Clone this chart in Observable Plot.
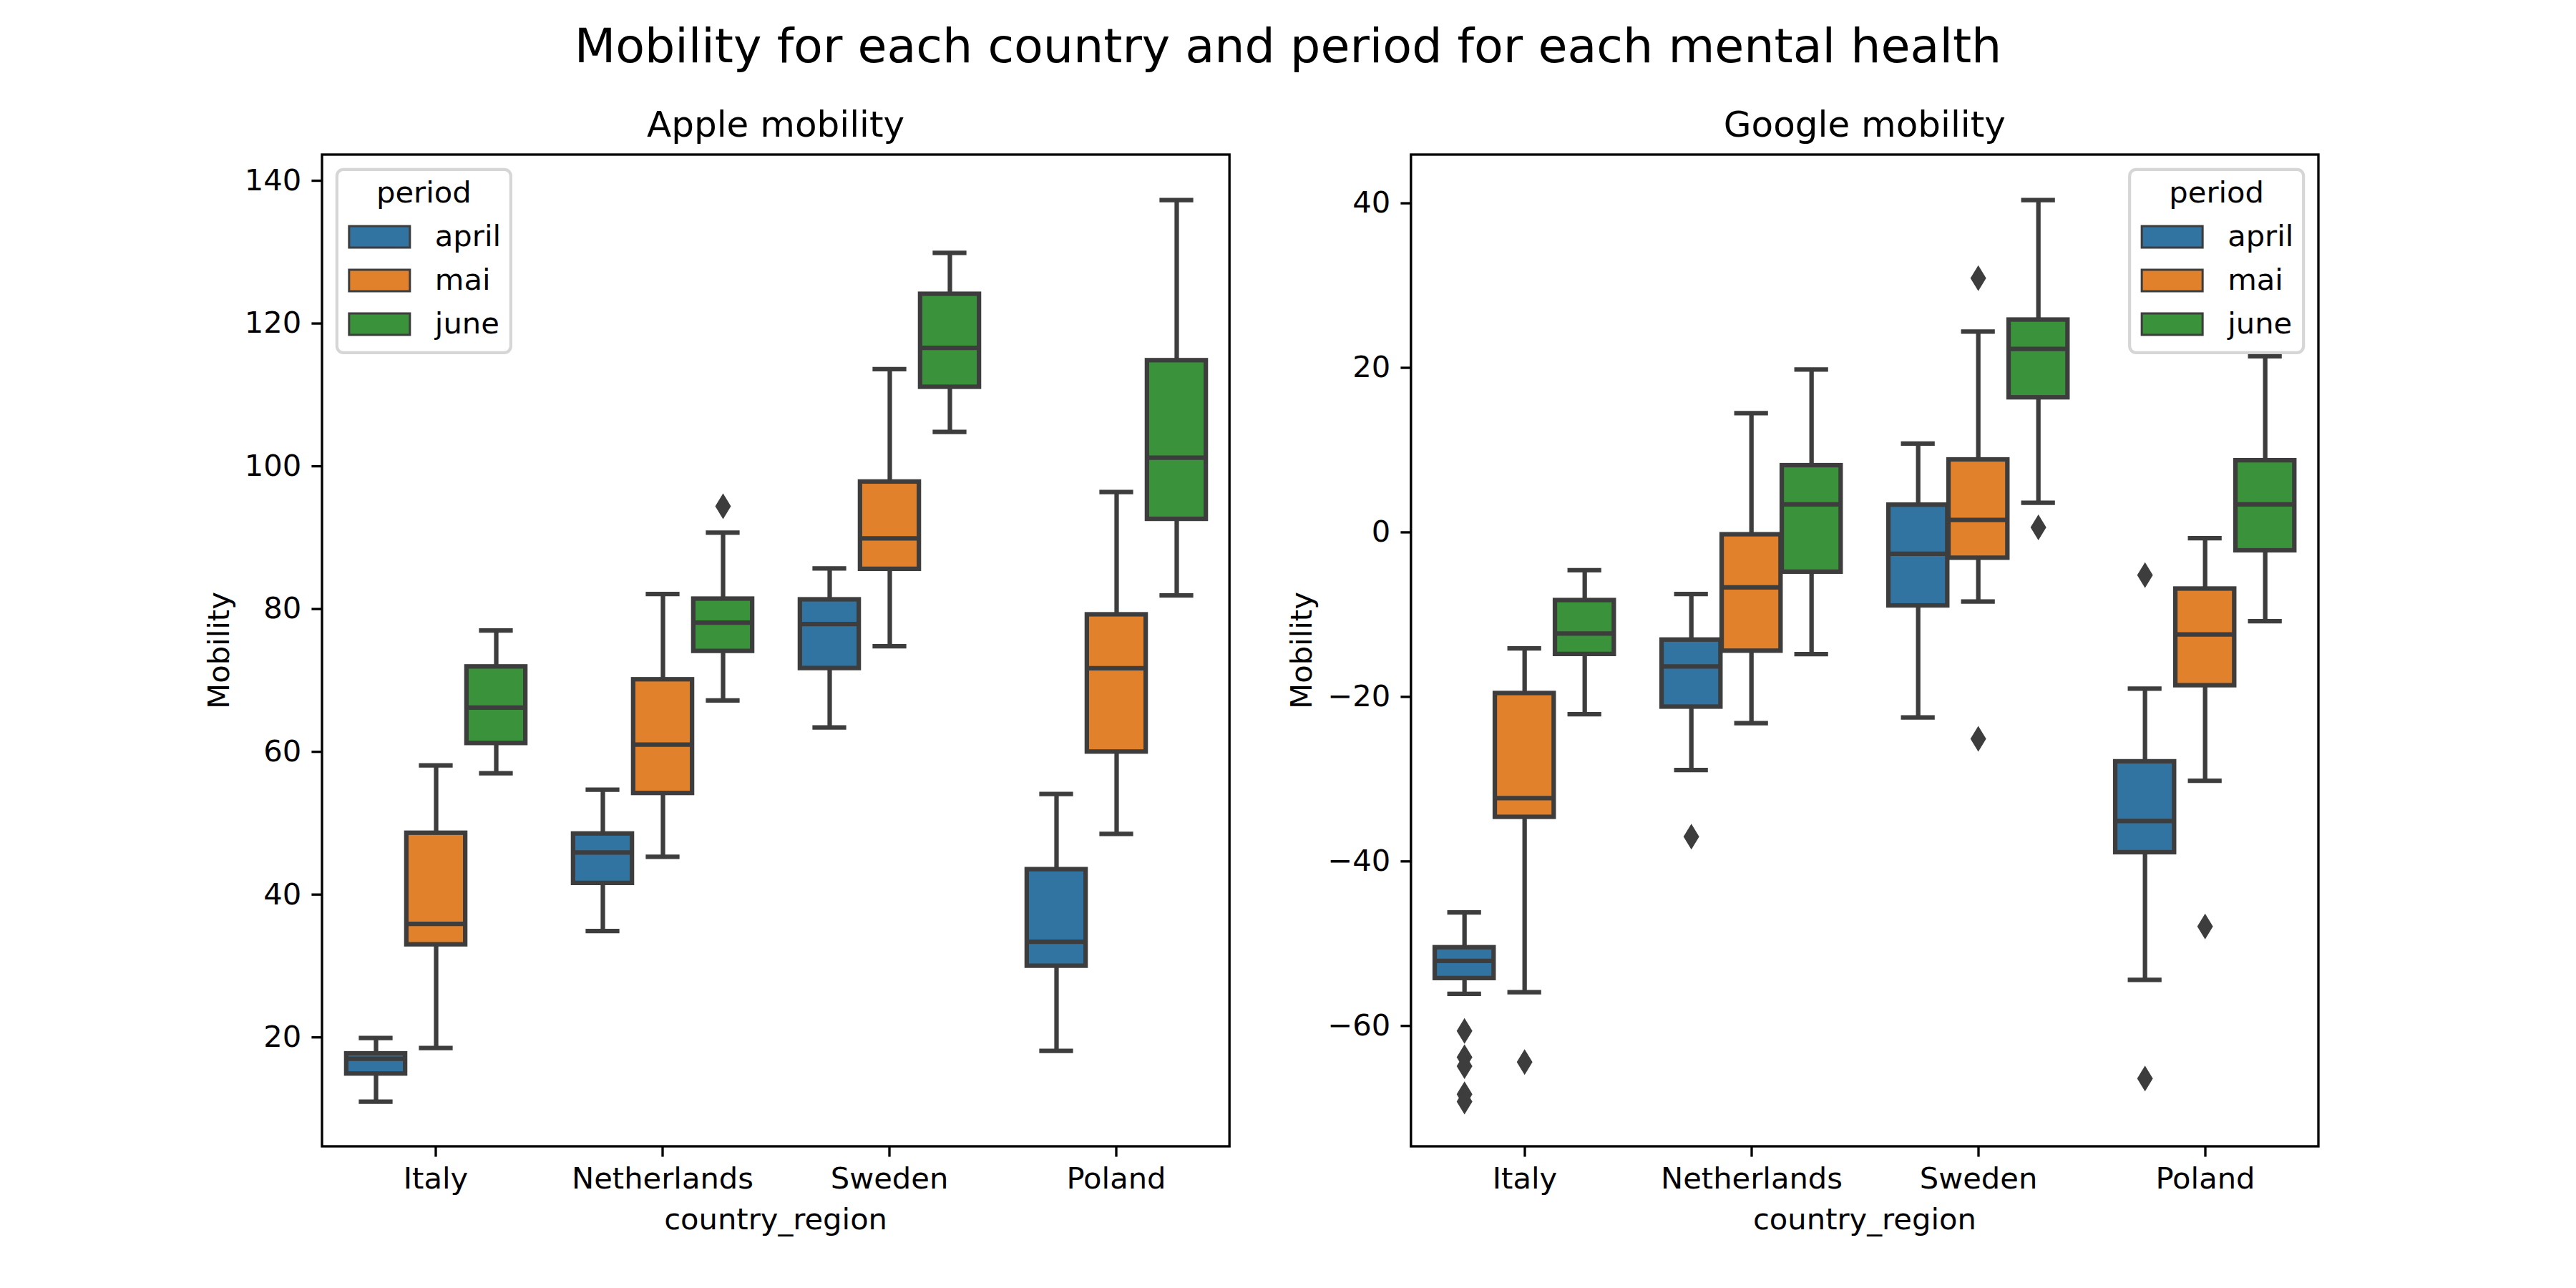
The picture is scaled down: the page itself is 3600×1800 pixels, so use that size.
<!DOCTYPE html>
<html>
<head>
<meta charset="utf-8">
<script src="https://cdn.jsdelivr.net/npm/d3@7"></script>
<script src="https://cdn.jsdelivr.net/npm/@observablehq/plot@0.6"></script>
<style>
  html, body { margin: 0; padding: 0; background: white; }
  #fig { position: relative; width: 3600px; height: 1800px; background: white; overflow: hidden; }
</style>
</head>
<body>
<div id="fig"></div>
<script>
// ---------------- data ----------------
const countries = ["Italy", "Netherlands", "Sweden", "Poland"];
const periods = ["april", "mai", "june"];
const periodColors = ["#3274a1", "#e1812c", "#3a923a"];

const appleTicks = [20, 40, 60, 80, 100, 120, 140];
const googleTicks = [-60, -40, -20, 0, 20, 40];

// order: Italy(april,mai,june), Netherlands(...), Sweden(...), Poland(...)
const appleLo  = [11.0, 18.5, 57.0, 34.9, 45.3, 67.2, 63.4, 74.8, 104.8, 18.1, 48.5, 81.9];
const appleQ1  = [14.8, 32.9, 61.1, 41.5, 54.1, 74.0, 71.6, 85.5, 111.0, 29.9, 59.9, 92.5];
const appleMed = [17.0, 35.9, 66.2, 45.9, 61.0, 78.1, 77.9, 89.9, 116.6, 33.4, 71.7, 101.2];
const appleQ3  = [17.8, 48.7, 72.0, 48.6, 70.2, 81.5, 81.4, 97.9, 124.2, 43.6, 79.3, 114.9];
const appleHi  = [19.9, 58.1, 77.0, 54.7, 82.1, 90.7, 85.7, 113.6, 129.9, 54.1, 96.4, 137.3];
const appleOutliers = [["Netherlands", "june", 94.4]];

const googleLo  = [-56.1, -55.9, -22.1, -28.9, -23.2, -14.8, -22.5, -8.4, 3.6, -54.4, -30.2, -10.8];
const googleQ1  = [-54.3, -34.7, -14.9, -21.3, -14.5, -4.9, -9.0, -3.2, 16.3, -39.0, -18.7, -2.3];
const googleMed = [-52.1, -32.3, -12.3, -16.3, -6.7, 3.4, -2.6, 1.5, 22.3, -35.1, -12.4, 3.4];
const googleQ3  = [-50.4, -19.5, -8.2, -13.0, -0.2, 8.2, 3.4, 8.9, 25.9, -27.8, -6.8, 8.8];
const googleHi  = [-46.2, -14.1, -4.6, -7.5, 14.5, 19.8, 10.8, 24.4, 40.4, -19.0, -0.7, 21.4];
const googleOutliers = [
  ["Italy", "april", -60.6], ["Italy", "april", -63.8], ["Italy", "april", -64.9],
  ["Italy", "april", -68.3], ["Italy", "april", -69.2], ["Italy", "mai", -64.4],
  ["Netherlands", "april", -37.0], ["Sweden", "mai", 30.9], ["Sweden", "mai", -25.1],
  ["Sweden", "june", 0.6], ["Poland", "april", -5.2], ["Poland", "april", -66.4],
  ["Poland", "mai", -47.9]
];

const suptitle = "Mobility for each country and period for each mental health";
const panelTitles = ["Apple mobility", "Google mobility"];
const xLabel = "country_region";
const yLabel = "Mobility";
const legendTitle = "period";

// ---------------- helpers ----------------
const GRAY = "#3d3d3d";
const FONT = "DejaVu Sans";
const PT = 300 / 72;            // px per point at 300 dpi
const FS = 10 * PT;             // 10pt
const LW = 1.5 * PT;            // box line width
const SPINE = 0.8 * PT;
const TICK = 3.5 * PT;

function rows(lo, q1, med, q3, hi) {
  return lo.map((_, i) => ({
    country: countries[Math.floor(i / 3)], period: periods[i % 3],
    lo: lo[i], q1: q1[i], med: med[i], q3: q3[i], hi: hi[i]
  }));
}
function outRows(list) { return list.map(([country, period, value]) => ({country, period, value})); }

function paddedDomain(data, outs) {
  const vals = data.flatMap(d => [d.lo, d.hi]).concat(outs.map(d => d.value));
  const [a, b] = d3.extent(vals);
  const m = (b - a) * 0.05;
  return [a - m, b + m];
}

const thinDiamond = {
  draw(ctx, size) {
    const s = Math.sqrt(size / Math.PI);
    ctx.moveTo(0, -s); ctx.lineTo(0.61 * s, 0); ctx.lineTo(0, s); ctx.lineTo(-0.61 * s, 0); ctx.closePath();
  }
};

const minusFmt = d => d < 0 ? "\u2212" + Math.abs(d) : String(d);

// layout (matplotlib default subplot params, 12x6in @300dpi)
const W = 3600, H = 1800;
const axLeft = 0.125 * W, axRight = 0.9 * W;
const axW = (axRight - axLeft) / 2.2;
const axTop = H * (1 - 0.88), axBottom = H * (1 - 0.11);
const frames = [axLeft, axLeft + 1.2 * axW];

function panel(data, outs, ticks, svgLeft, frameLeft) {
  const svgW = 1800;
  const ml = frameLeft - svgLeft;
  const mr = svgW - ml - axW;
  const chart = Plot.plot({
    width: svgW, height: H,
    marginLeft: ml, marginRight: mr, marginTop: axTop, marginBottom: H - axBottom,
    style: {fontFamily: FONT, fontSize: FS + "px", color: "black", background: "transparent",
            position: "absolute", left: svgLeft + "px", top: "0px", maxWidth: "none", overflow: "visible"},
    fx: {domain: countries, padding: 0},
    x: {domain: periods, paddingInner: 0, paddingOuter: 0.375, axis: null},
    y: {domain: paddedDomain(data, outs)},
    color: {domain: periods, range: periodColors},
    marks: [
      Plot.ruleX(data, {fx: "country", x: "period", y1: "lo", y2: "q1", stroke: GRAY, strokeWidth: LW}),
      Plot.ruleX(data, {fx: "country", x: "period", y1: "q3", y2: "hi", stroke: GRAY, strokeWidth: LW}),
      Plot.tickY(data, {fx: "country", x: "period", y: "lo", stroke: GRAY, strokeWidth: LW, insetLeft: 21.5, insetRight: 21.5, strokeLinecap: "square"}),
      Plot.tickY(data, {fx: "country", x: "period", y: "hi", stroke: GRAY, strokeWidth: LW, insetLeft: 21.5, insetRight: 21.5, strokeLinecap: "square"}),
      Plot.barY(data, {fx: "country", x: "period", y1: "q1", y2: "q3", fill: "period", stroke: GRAY, strokeWidth: LW, inset: 0.85}),
      Plot.tickY(data, {fx: "country", x: "period", y: "med", stroke: GRAY, strokeWidth: LW, insetLeft: 0.85, insetRight: 0.85}),
      Plot.dot(outs, {fx: "country", x: "period", y: "value", symbol: thinDiamond, r: 18, fill: GRAY, stroke: "none"}),
      Plot.axisY({ticks: ticks, tickSize: TICK, tickPadding: TICK, strokeWidth: SPINE, tickFormat: minusFmt, label: null, fontSize: FS}),
      Plot.axisFx({anchor: "bottom", tickSize: TICK, tickPadding: TICK, strokeWidth: SPINE, label: null, fontSize: FS})
    ]
  });
  return chart;
}

const fig = document.getElementById("fig");
const appleData = rows(appleLo, appleQ1, appleMed, appleQ3, appleHi);
const googleData = rows(googleLo, googleQ1, googleMed, googleQ3, googleHi);
fig.appendChild(panel(appleData, outRows(appleOutliers), appleTicks, 0, frames[0]));
fig.appendChild(panel(googleData, outRows(googleOutliers), googleTicks, 1800, frames[1]));

// ---------------- overlay: frames, titles, labels, legends ----------------
const ov = d3.create("svg").attr("width", W).attr("height", H)
  .style("position", "absolute").style("left", "0px").style("top", "0px")
  .style("font-family", FONT);

ov.append("text").attr("x", W / 2).attr("y", 86.5).attr("text-anchor", "middle")
  .attr("font-size", 16 * PT).text(suptitle);

const ylabX = [320, 1833];
const legendLeft = [axLeft + 0.5 * FS, frames[1] + axW - 0.5 * FS - 243];

frames.forEach((fl, i) => {
  const cx = fl + axW / 2;
  ov.append("rect").attr("x", fl).attr("y", axTop).attr("width", axW).attr("height", axBottom - axTop)
    .attr("fill", "none").attr("stroke", "black").attr("stroke-width", SPINE);
  ov.append("text").attr("x", cx).attr("y", axTop - 6 * PT).attr("text-anchor", "middle")
    .attr("font-size", 12 * PT).text(panelTitles[i]);
  ov.append("text").attr("x", cx).attr("y", 1718).attr("text-anchor", "middle")
    .attr("font-size", FS).text(xLabel);
  ov.append("text").attr("transform", `translate(${ylabX[i]},${(axTop + axBottom) / 2}) rotate(-90)`)
    .attr("text-anchor", "middle").attr("font-size", FS).text(yLabel);

  // legend
  const lx = legendLeft[i], ly = axTop + 0.5 * FS;
  const g = ov.append("g");
  g.append("rect").attr("x", lx).attr("y", ly).attr("width", 243).attr("height", 256)
    .attr("rx", 9).attr("fill", "rgba(255,255,255,0.8)").attr("stroke", "rgba(204,204,204,0.8)")
    .attr("stroke-width", 1 * PT);
  g.append("text").attr("x", lx + 121.5).attr("y", 283).attr("text-anchor", "middle")
    .attr("font-size", FS).text(legendTitle);
  periods.forEach((p, j) => {
    g.append("rect").attr("x", lx + 17).attr("y", 316 + 61 * j).attr("width", 85).attr("height", 30)
      .attr("fill", periodColors[j]).attr("stroke", GRAY).attr("stroke-width", 3);
    g.append("text").attr("x", lx + 137).attr("y", 344 + 61 * j).attr("font-size", FS).text(p);
  });
});

fig.appendChild(ov.node());
</script>
</body>
</html>
